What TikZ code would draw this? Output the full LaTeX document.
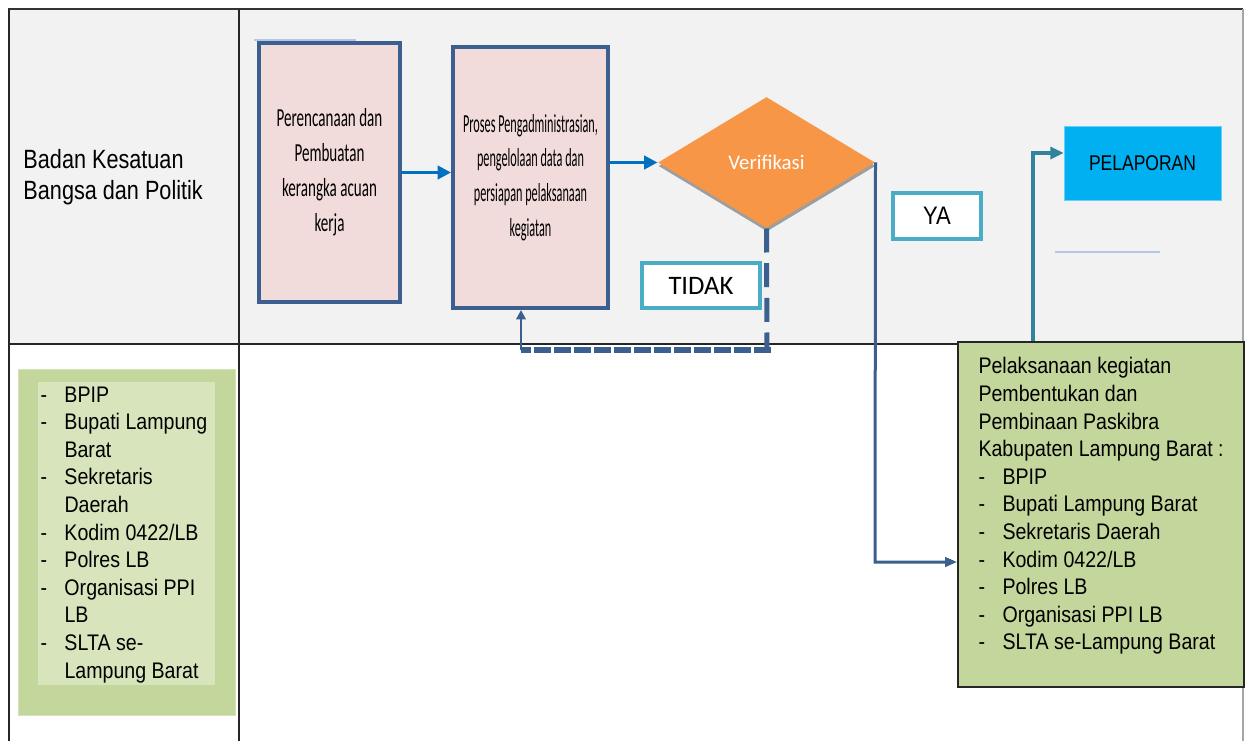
\documentclass[tikz,border=0pt]{standalone}
\usepackage{fontspec}
\newfontfamily\arialfont[FakeStretch=0.87]{Liberation Sans}
\newfontfamily\arialwide[FakeStretch=0.82]{Liberation Sans}
\newfontfamily\calnarrowA[FakeStretch=0.58]{Carlito}
\newfontfamily\calnarrowB[FakeStretch=0.47]{Carlito}
\newfontfamily\calfont{Carlito}
\usetikzlibrary{shapes.geometric,arrows.meta}

\definecolor{bggray}{RGB}{242,242,242}
\definecolor{boxblue}{RGB}{59,95,143}
\definecolor{procpink}{RGB}{242,220,219}
\definecolor{arrowblue}{RGB}{0,112,192}
\definecolor{verifoange}{RGB}{247,150,70}
\definecolor{labelteal}{RGB}{75,172,198}
\definecolor{reportteal}{RGB}{49,132,155}
\definecolor{reportcyan}{RGB}{0,176,240}
\definecolor{actgreen}{RGB}{195,214,155}
\definecolor{actlight}{RGB}{216,228,188}
\definecolor{faintblue}{RGB}{180,200,230}

\newcommand\itm{\makebox[18pt][l]{-}}
\newcommand\cnt{\hspace*{18pt}}

\tikzset{every picture/.style={line width=0.75pt}}

\begin{document}
\begin{tikzpicture}[x=0.75pt,y=0.75pt,yscale=-1,xscale=1,
  procbox/.style={draw=boxblue, line width=3pt, fill=procpink, rectangle, inner sep=0pt, align=center},
  labelbox/.style={draw=labelteal, line width=3pt, fill=white, rectangle, inner sep=0pt},
  flowarrow/.style={draw=arrowblue, line width=2.25pt, -{Triangle[length=10pt,width=10pt]}},
  listtext/.style={anchor=north west, inner sep=0pt, align=left, font=\arialfont\fontsize{16.9}{20.7}\selectfont}]
\useasboundingbox (0,0) rectangle (1246,741);

%Table
\fill [bggray] (9,9) rectangle (1243,344) ;
\draw [line width=2pt, black!80] (8,9) -- (1243,9) ;
\draw [line width=1.1pt, black!85] (9,9) -- (9,741) ;
\draw [line width=1.1pt, black!85] (239,9) -- (239,741) ;
\draw [line width=1.1pt, black!85] (9,344) -- (1243,344) ;
\draw [line width=1pt, black!35] (1243,9) -- (1243,741) ;

% Text Node
\node (badan) [anchor=west, inner sep=0pt, align=left, font=\arialwide\fontsize{19.8}{23.25}\selectfont] at (23,177.5) {Badan Kesatuan\\Bangsa dan Politik};

%Faint lines
\draw [faintblue, line width=1pt] (254,40) -- (356,40) ;
\draw [faintblue, line width=1pt] (1055,252) -- (1160,252) ;

%Flowchart: Process
\node (rencana) [procbox, minimum width=105.75pt, minimum height=194.25pt, font=\calnarrowA\fontsize{19.5}{26.25}\selectfont] at (329.5,172.5) {Perencanaan dan\\Pembuatan\\kerangka acuan\\kerja};
%Flowchart: Process
\node (proses) [procbox, minimum width=116.25pt, minimum height=195.75pt, font=\calnarrowB\fontsize{19.5}{26}\selectfont] at (530.5,177.5) {Proses Pengadministrasian,\\pengelolaan data dan\\persiapan pelaksanaan\\kegiatan};
%Flowchart: Decision
\node (verifshadow) [diamond, fill=black!38, minimum width=162.75pt, minimum height=98.25pt, inner sep=0pt] at (767,166) {};
\node (verif) [diamond, fill=verifoange, minimum width=162.75pt, minimum height=98.25pt, inner sep=0pt, text=white, font=\calfont\fontsize{15.6}{18}\selectfont] at (766.5,162.5) {Verifikasi};

%Labels
\node (tidak) [labelbox, minimum width=88.5pt, minimum height=33.75pt, font=\calfont\fontsize{20}{24}\selectfont] at (701,285.5) {TIDAK};
\node (ya) [labelbox, minimum width=66pt, minimum height=34.5pt, font=\arialfont\fontsize{19}{22}\selectfont] at (937,216) {YA};

%Flowchart: Process
\node (lapor) [rectangle, fill=reportcyan, draw=reportcyan!60, line width=0.5pt, minimum width=117.75pt, minimum height=55.5pt, font=\arialwide\fontsize{16}{18}\selectfont] at (1142.5,163) {PELAPORAN};

%Left list
\draw [fill=actgreen, draw=actgreen!70!white] (18,370) rectangle (235,715) ;
\fill [actlight] (38,382) rectangle (215,685) ;
\node (instansi) [listtext] at (40,386) {\itm BPIP\\ \itm Bupati Lampung\\ \cnt Barat\\ \itm Sekretaris\\ \cnt Daerah\\ \itm Kodim 0422/LB\\ \itm Polres LB\\ \itm Organisasi PPI\\ \cnt LB\\ \itm SLTA se-\\ \cnt Lampung Barat};

%Pelaksanaan
\node (laksana) [rectangle, fill=actgreen, draw=black!85, line width=1.3pt, minimum width=214.5pt, minimum height=258.75pt] at (1101,514.5) {};
\node (laksanatext) [listtext] at (978,357) {Pelaksanaan kegiatan\\Pembentukan dan\\Pembinaan Paskibra\\Kabupaten Lampung Barat :\\ \itm BPIP\\ \itm Bupati Lampung Barat\\ \itm Sekretaris Daerah\\ \itm Kodim 0422/LB\\ \itm Polres LB\\ \itm Organisasi PPI LB\\ \itm SLTA se-Lampung Barat};

%Straight Lines
\draw [flowarrow] (rencana.east) -- (rencana.east -| proses.west) ;
\draw [flowarrow] (proses.east |- verif.west) -- (verif.west) ;

%Tidak loop
\coordinate (tdown) at (767,350) ;
\coordinate (tleft) at (521,350) ;
\draw [boxblue, line width=3.75pt, dash pattern=on 18pt off 8pt] (verif.south) -- (tdown) ;
\draw [boxblue, line width=4.5pt, dash pattern=on 12.75pt off 2.25pt] (771,350) -- (tleft) ;
\draw [boxblue, line width=2pt, -{Triangle[length=7pt,width=7pt]}] (tleft) -- (tleft |- proses.south) ;

%Ya path
\coordinate (yadown) at (875,562) ;
\draw [boxblue, line width=2.25pt, -{Triangle[length=9pt,width=7pt]}] (verif.east) -- (yadown) -- (yadown -| laksana.west) ;

%Report path
\coordinate (lapup) at (1033,153) ;
\draw [reportteal, line width=3pt, -{Triangle[length=10pt,width=9pt]}] (lapup |- laksana.north) -- (lapup) -- (lapup -| lapor.west) ;

\end{tikzpicture}
\end{document}
